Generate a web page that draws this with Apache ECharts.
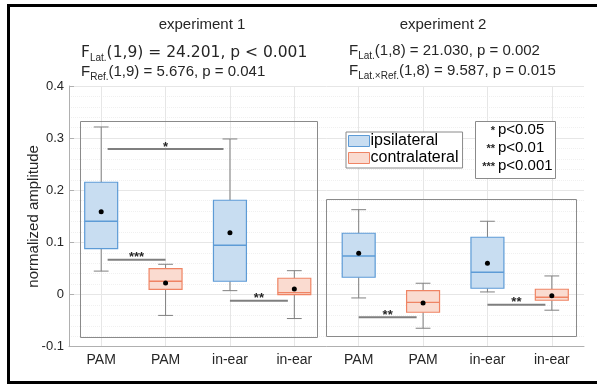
<!DOCTYPE html>
<html><head><meta charset="utf-8">
<script src="https://cdn.jsdelivr.net/npm/echarts@6/dist/echarts.min.js"></script>
<style>html,body{margin:0;padding:0;background:#fff}#c{width:597px;height:384px}</style>
</head><body><div id="c"></div>
<script>
// ---------- data ----------
const categories = ['PAM', 'PAM', 'in-ear', 'in-ear', 'PAM', 'PAM', 'in-ear', 'in-ear'];
const side = ['ipsi', 'contra', 'ipsi', 'contra', 'ipsi', 'contra', 'ipsi', 'contra'];
const whiskerLow  = [0.045, -0.040, 0.0075, -0.046, -0.0065, -0.0646, 0.005, -0.030];
const q1          = [0.088, 0.010, 0.0255, -0.0002, 0.0332, -0.0339, 0.0121, -0.0109];
const median      = [0.1406, 0.0255, 0.0946, 0.0036, 0.074, -0.0148, 0.0428, -0.0052];
const q3          = [0.2154, 0.0497, 0.1809, 0.0313, 0.1176, 0.0075, 0.1099, 0.0102];
const whiskerHigh = [0.3214, 0.0581, 0.2984, 0.0458, 0.1628, 0.0217, 0.1406, 0.0357];
const means       = [0.159, 0.0222, 0.1187, 0.0107, 0.0792, -0.0161, 0.060, -0.0021];

const sigFrom  = [0.1, 0.1, 2.0, 4.0, 6.0];
const sigTo    = [1.9, 1.0, 2.9, 4.9, 6.9];
const sigY     = [0.2793, 0.0669, -0.0117, -0.0435, -0.0194];
const sigStars = ['*', '***', '**', '**', '**'];

const groupX0     = [-0.33, 3.49];
const groupX1     = [3.35, 7.37];
const groupTop    = [0.333, 0.1828];
const groupBottom = [-0.0807, -0.0807];

const groupTitles = ['experiment 1', 'experiment 2'];
const statMain = ['F', 'F', 'F', 'F'];
const statSub  = ['Lat.', 'Ref.', 'Lat.', 'Lat.\u00d7Ref.'];
const statRest = ['(1,9) = 24.201, p < 0.001', '(1,9) = 5.676, p = 0.041',
                  '(1,8) = 21.030, p = 0.002', '(1,8) = 9.587, p = 0.015'];

const sigLegendStars = ['*', '**', '***'];
const sigLegendText  = ['p<0.05', 'p<0.01', 'p<0.001'];

const seriesNames = ['ipsilateral', 'contralateral'];
const yMin = -0.1, yMax = 0.4, yStep = 0.1;

// ---------- styles ----------
const FONT = "'Liberation Sans', Arial, sans-serif";
const TXT = '#262626';
const GRAY = '#8a8a8a';
const STY = {
  ipsi:   { fill: '#c8ddf1', stroke: '#5d9bd6' },
  contra: { fill: '#fadbd0', stroke: '#ef8464' }
};

function boxData(s) {
  const out = [];
  categories.forEach((c, i) => {
    if (side[i] === s) out.push([i, whiskerLow[i], q1[i], median[i], q3[i], whiskerHigh[i], means[i]]);
  });
  return out;
}

function boxRender(sty) {
  return function (params, api) {
    const x = api.value(0);
    const pLow = api.coord([x, api.value(1)]);
    const pQ1 = api.coord([x, api.value(2)]);
    const pMed = api.coord([x, api.value(3)]);
    const pQ3 = api.coord([x, api.value(4)]);
    const pHigh = api.coord([x, api.value(5)]);
    const pMean = api.coord([x, api.value(6)]);
    const unit = api.size([1, 0])[0];
    const hw = unit * 0.256, cw = unit * 0.115;
    const cx = pMed[0];
    const wl = { stroke: '#808080', lineWidth: 1 };
    return {
      type: 'group', children: [
        { type: 'line', shape: { x1: cx, y1: pHigh[1], x2: cx, y2: pQ3[1] }, style: wl },
        { type: 'line', shape: { x1: cx, y1: pQ1[1], x2: cx, y2: pLow[1] }, style: wl },
        { type: 'line', shape: { x1: cx - cw, y1: pHigh[1], x2: cx + cw, y2: pHigh[1] }, style: wl },
        { type: 'line', shape: { x1: cx - cw, y1: pLow[1], x2: cx + cw, y2: pLow[1] }, style: wl },
        { type: 'rect', shape: { x: cx - hw, y: pQ3[1], width: 2 * hw, height: pQ1[1] - pQ3[1] },
          style: { fill: sty.fill, stroke: sty.stroke, lineWidth: 1.2 } },
        { type: 'line', shape: { x1: cx - hw, y1: pMed[1], x2: cx + hw, y2: pMed[1] },
          style: { stroke: sty.stroke, lineWidth: 1.3 } },
        { type: 'circle', shape: { cx: pMean[0], cy: pMean[1], r: 2.5 }, style: { fill: '#000' } }
      ]
    };
  };
}

const groupData = groupX0.map((v, i) => [v, groupTop[i], groupX1[i], groupBottom[i]]);
const sigData = sigFrom.map((v, i) => [v, sigY[i], sigTo[i], i]);

function statText(i, mainFont, size) {
  return {
    text: '{m|' + statMain[i] + '}{s|' + statSub[i] + '}{m|' + statRest[i] + '}',
    rich: {
      m: { fontFamily: mainFont, fontSize: size, lineHeight: 20, fill: TXT, color: TXT },
      s: { fontFamily: FONT, fontSize: 10, lineHeight: 10, verticalAlign: 'bottom', fill: TXT, color: TXT }
    },
    fill: TXT, align: 'left', verticalAlign: 'middle'
  };
}

const graphics = [
  { type: 'rect', shape: { x: 8.5, y: 5.5, width: 620, height: 377 },
    style: { fill: 'none', stroke: '#000', lineWidth: 3 }, z: 100 },
  { type: 'text', x: 202, y: 25, style: { text: groupTitles[0], font: '15px ' + FONT, fill: TXT, align: 'center', verticalAlign: 'middle' } },
  { type: 'text', x: 443, y: 25, style: { text: groupTitles[1], font: '15px ' + FONT, fill: TXT, align: 'center', verticalAlign: 'middle' } },
  { type: 'text', x: 81, y: 53, style: statText(0, "'DejaVu Sans', sans-serif", 15.5) },
  { type: 'text', x: 81, y: 72, style: statText(1, FONT, 15) },
  { type: 'text', x: 349, y: 51, style: statText(2, FONT, 15) },
  { type: 'text', x: 349, y: 71, style: statText(3, FONT, 15) },
  { type: 'rect', shape: { x: 475.5, y: 121.5, width: 80, height: 57 },
    style: { fill: '#fff', stroke: GRAY, lineWidth: 1 }, z: 50 }
];
sigLegendText.forEach((t, i) => {
  const cy = 130 + i * 17.8;
  graphics.push({ type: 'text', x: 495, y: cy + 1, z: 51,
    style: { text: sigLegendStars[i], font: 'bold 11px ' + FONT, fill: TXT, align: 'right', verticalAlign: 'middle' } });
  graphics.push({ type: 'text', x: 498, y: cy, z: 51,
    style: { text: t, font: '15px ' + FONT, fill: '#000', align: 'left', verticalAlign: 'middle' } });
});

const chart = echarts.init(document.getElementById('c'), null, { renderer: 'canvas' });
chart.setOption({
  animation: false,
  backgroundColor: '#fff',
  grid: { left: 69, right: 13, top: 86, bottom: 37.3 },
  xAxis: [
    { type: 'category', data: categories, boundaryGap: true,
      axisLine: { onZero: false, lineStyle: { color: '#b0b0b0' } },
      axisTick: { inside: true, alignWithLabel: true, length: 5, lineStyle: { color: '#b0b0b0' } },
      axisLabel: { color: TXT, fontSize: 14, fontFamily: FONT, margin: 6, interval: 0 },
      splitLine: { show: false } },
    { type: 'category', data: Array.from({ length: 17 }, (_, i) => 'g' + i), boundaryGap: false,
      axisLine: { show: false, onZero: false }, axisTick: { show: false }, axisLabel: { show: false },
      splitLine: { show: true, interval: (i) => i % 2 === 1, lineStyle: { color: '#e6e6e6', width: 1 } } },
    { type: 'value', min: -0.5, max: 7.5, show: false, axisLine: { onZero: false }, splitLine: { show: false } }
  ],
  yAxis: {
    type: 'value', min: yMin, max: yMax, interval: yStep,
    name: 'normalized amplitude', nameLocation: 'middle', nameGap: 28, nameMoveOverlap: false,
    nameTextStyle: { color: TXT, fontSize: 15, fontFamily: FONT },
    axisLine: { show: true, onZero: false, lineStyle: { color: '#b0b0b0' } },
    axisTick: { show: true, inside: true, length: 5, lineStyle: { color: '#b0b0b0' } },
    axisLabel: { color: TXT, fontSize: 13, fontFamily: FONT, margin: 5,
      formatter: (v) => String(+v.toFixed(1)) },
    splitLine: { show: true, lineStyle: { color: '#e6e6e6' } },
    minorTick: { show: false, splitNumber: 5 },
    minorSplitLine: { show: true, lineStyle: { color: '#f0f0f0', type: 'dotted' } }
  },
  legend: {
    orient: 'vertical', left: 346, top: 132, padding: [1, 4, 2, 2], itemGap: 1,
    itemWidth: 21, itemHeight: 11, borderColor: GRAY, borderWidth: 1, backgroundColor: '#fff',
    textStyle: { fontSize: 16, fontFamily: FONT, color: '#000', lineHeight: 16, padding: [0, 0, 0, -4] },
    data: [
      { name: seriesNames[0], icon: 'rect', itemStyle: { color: STY.ipsi.fill, borderColor: STY.ipsi.stroke, borderWidth: 1 } },
      { name: seriesNames[1], icon: 'rect', itemStyle: { color: STY.contra.fill, borderColor: STY.contra.stroke, borderWidth: 1 } }
    ]
  },
  graphic: graphics,
  series: [
    { type: 'custom', name: 'groups', xAxisIndex: 2, yAxisIndex: 0, silent: true, z: 1,
      data: groupData,
      renderItem: (params, api) => {
        const a = api.coord([api.value(0), api.value(1)]);
        const b = api.coord([api.value(2), api.value(3)]);
        return { type: 'rect', shape: { x: Math.round(a[0]) + 0.5, y: Math.round(a[1]) + 0.5, width: Math.round(b[0] - a[0]), height: Math.round(b[1] - a[1]) },
          style: { fill: 'none', stroke: GRAY, lineWidth: 1 } };
      } },
    { type: 'custom', name: seriesNames[0], xAxisIndex: 2, yAxisIndex: 0, z: 3,
      itemStyle: { color: STY.ipsi.fill, borderColor: STY.ipsi.stroke },
      data: boxData('ipsi'), renderItem: boxRender(STY.ipsi) },
    { type: 'custom', name: seriesNames[1], xAxisIndex: 2, yAxisIndex: 0, z: 3,
      itemStyle: { color: STY.contra.fill, borderColor: STY.contra.stroke },
      data: boxData('contra'), renderItem: boxRender(STY.contra) },
    { type: 'custom', name: 'sig', xAxisIndex: 2, yAxisIndex: 0, silent: true, z: 2,
      data: sigData,
      renderItem: (params, api) => {
        const a = api.coord([api.value(0), api.value(1)]);
        const b = api.coord([api.value(2), api.value(1)]);
        const idx = api.value(3);
        return { type: 'group', children: [
          { type: 'line', shape: { x1: a[0], y1: a[1], x2: b[0], y2: b[1] }, style: { stroke: '#7f7f7f', lineWidth: 2 } },
          { type: 'text', x: (a[0] + b[0]) / 2, y: a[1] - 2,
            style: { text: sigStars[idx], font: 'bold 13px ' + FONT, fill: TXT, align: 'center', verticalAlign: 'middle' } }
        ] };
      } }
  ]
});
</script>
</body></html>
